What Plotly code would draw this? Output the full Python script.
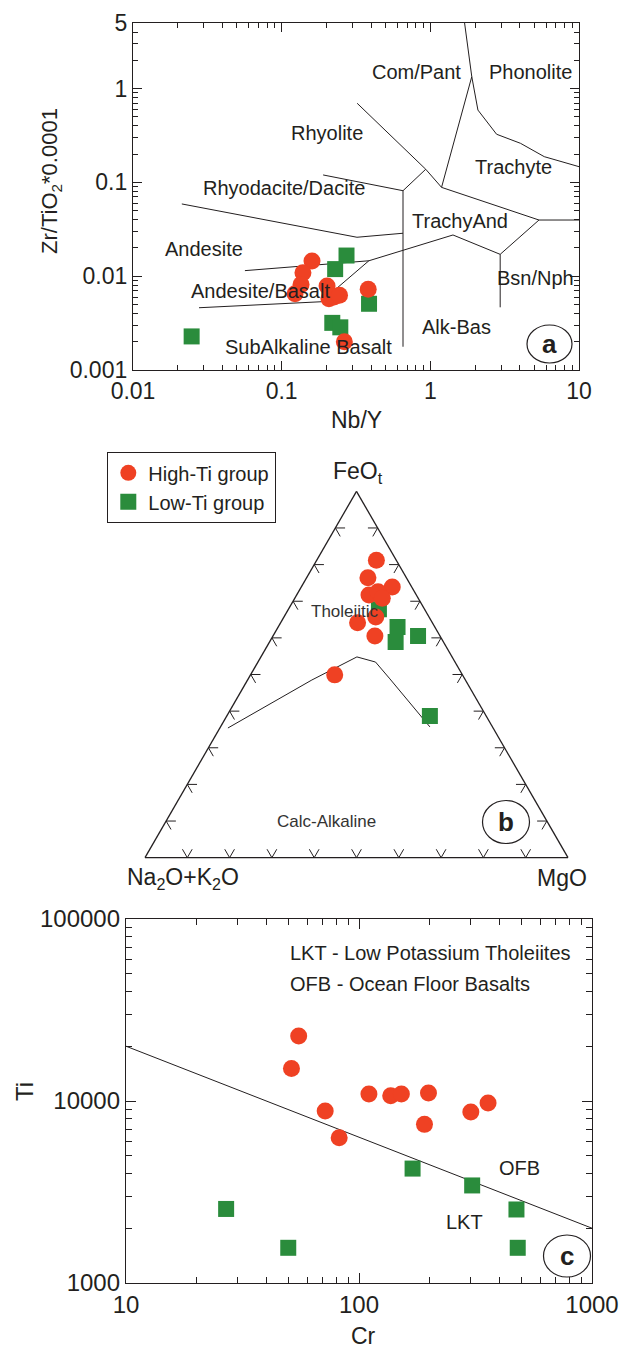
import math
import plotly.graph_objects as go

W, H = 623, 1351
FONT = "Liberation Sans, Arial, Helvetica, sans-serif"
INK = "#231f20"
RED = "#ef4123"
GREEN = "#2a8c3c"

# ---------------- (a) Nb/Y vs Zr/TiO2*0.0001 ----------------
nby_high = [0.160, 0.139, 0.135, 0.123, 0.202, 0.208, 0.225, 0.245, 0.382, 0.264]
zrti_high = [0.0145, 0.0109, 0.00813, 0.00651, 0.00787, 0.00575, 0.0060, 0.00625, 0.00725, 0.0020]
nby_low = [0.273, 0.229, 0.387, 0.219, 0.248, 0.0248]
zrti_low = [0.0166, 0.0119, 0.00508, 0.00318, 0.00285, 0.00228]

# field boundaries (Nb/Y, Zr/TiO2*0.0001)
field_lines_a = [
    [(1.70, 5.0), (1.90, 1.34), (2.09, 0.59), (2.79, 0.326), (4.04, 0.261), (5.84, 0.188), (10.0, 0.147)],
    [(1.90, 1.34), (1.19, 0.0885)],
    [(0.322, 0.697), (0.931, 0.138), (1.19, 0.0885)],
    [(0.931, 0.138), (0.655, 0.0815)],
    [(0.19, 0.12), (0.655, 0.0815)],
    [(0.655, 0.0815), (0.655, 0.00177)],
    [(1.19, 0.0885), (5.38, 0.0397), (10.0, 0.0397)],
    [(0.0278, 0.00461), (0.184, 0.00534), (0.386, 0.0146), (1.42, 0.0275), (2.95, 0.0171), (5.38, 0.0397)],
    [(0.0566, 0.01146), (0.386, 0.0146)],
    [(0.0213, 0.0589), (0.321, 0.026), (0.655, 0.0287)],
    [(2.95, 0.0171), (2.95, 0.00466)],
]

field_names_a = ["Com/Pant", "Phonolite", "Rhyolite", "Trachyte", "Rhyodacite/Dacite", "TrachyAnd",
                 "Andesite", "Bsn/Nph", "Andesite/Basalt", "Alk-Bas", "SubAlkaline Basalt"]
field_label_x_a = [0.81, 4.75, 0.202, 3.64, 0.104, 1.59, 0.0301, 5.06, 0.0726, 1.51, 0.151]
field_label_y_a = [1.51, 1.51, 0.339, 0.147, 0.0865, 0.0391, 0.0194, 0.00964, 0.00695, 0.00285, 0.00177]

# ---------------- (b) AFM ternary ----------------
feo_high = [81.2, 76.4, 73.9, 71.7, 72.6, 70.8, 65.7, 64.1, 60.5, 49.9]
alk_high = [4.7, 9.1, 4.6, 11.2, 8.6, 8.5, 12.6, 17.7, 15.4, 30.2]
mgo_high = [14.1, 14.5, 21.5, 17.1, 18.8, 20.7, 21.7, 18.2, 24.1, 19.9]
feo_low = [67.8, 63.0, 60.5, 58.9, 38.7]
alk_low = [10.8, 8.8, 5.2, 11.3, 13.3]
mgo_low = [21.4, 28.2, 34.3, 29.8, 48.0]

# Tholeiitic / Calc-Alkaline divide
div_feo = [35.4, 48.5, 54.8, 53.4, 48.8, 35.7]
div_alk = [62.7, 36.3, 22.5, 18.8, 17.7, 14.8]
div_mgo = [1.9, 15.2, 22.7, 27.8, 33.5, 49.5]

# ---------------- (c) Cr vs Ti ----------------
cr_high = [55.1, 51.3, 110.3, 136.8, 152.0, 198.7, 358.0, 302.0, 71.6, 82.2, 191.0]
ti_high = [22760, 15070, 10920, 10690, 10920, 11060, 9750, 8700, 8810, 6290, 7440]
cr_low = [26.9, 49.7, 169.8, 306.0, 474.0, 480.0]
ti_low = [2552, 1561, 4253, 3436, 2535, 1561]

# LKT / OFB divide
div_cr = [10, 1000]
div_ti = [20000, 2000]

a_xticks = [0.01, 0.1, 1, 10]
a_yticks = [0.001, 0.01, 0.1, 1, 5]
c_xticks = [10, 100, 1000]
c_yticks = [1000, 10000, 100000]


def px(x):
    return x / W


def py(y):
    return 1 - y / H


def polyline(segments):
    xs, ys = [], []
    for seg in segments:
        for x, y in seg:
            xs.append(x)
            ys.append(y)
        xs.append(None)
        ys.append(None)
    return xs, ys


fig = go.Figure()

# panel a
lx, ly = polyline(field_lines_a)
fig.add_trace(go.Scatter(x=lx, y=ly, mode="lines", line=dict(color=INK, width=1),
                         hoverinfo="skip", showlegend=False, xaxis="x", yaxis="y"))
fig.add_trace(go.Scatter(x=nby_low, y=zrti_low, mode="markers",
                         marker=dict(symbol="square", size=16, color=GREEN),
                         showlegend=False, xaxis="x", yaxis="y"))
fig.add_trace(go.Scatter(x=nby_high, y=zrti_high, mode="markers",
                         marker=dict(symbol="circle", size=17, color=RED),
                         showlegend=False, xaxis="x", yaxis="y"))

# panel b : frame ticks drawn as small chevrons
tick_len = 2.3
ta, tb, tc = [], [], []
for i in range(1, 10):
    v = 10.0 * i
    # left side (MgO = 0)
    for p in [(v, 100 - v - tick_len, tick_len), (v, 100 - v, 0), (v - tick_len, 100 - v, tick_len)]:
        ta.append(p[0]); tb.append(p[1]); tc.append(p[2])
    ta.append(None); tb.append(None); tc.append(None)
    # right side (alkalis = 0)
    for p in [(v, tick_len, 100 - v - tick_len), (v, 0, 100 - v), (v - tick_len, tick_len, 100 - v)]:
        ta.append(p[0]); tb.append(p[1]); tc.append(p[2])
    ta.append(None); tb.append(None); tc.append(None)
    # base (FeO = 0)
    for p in [(tick_len, 100 - v, v - tick_len), (0, 100 - v, v), (tick_len, 100 - v - tick_len, v)]:
        ta.append(p[0]); tb.append(p[1]); tc.append(p[2])
    ta.append(None); tb.append(None); tc.append(None)

fig.add_trace(go.Scatterternary(a=ta, b=tb, c=tc, mode="lines", line=dict(color=INK, width=1),
                                hoverinfo="skip", showlegend=False, subplot="ternary"))
fig.add_trace(go.Scatterternary(a=div_feo, b=div_alk, c=div_mgo, mode="lines",
                                line=dict(color=INK, width=1), hoverinfo="skip",
                                showlegend=False, subplot="ternary"))
fig.add_trace(go.Scatterternary(a=feo_low, b=alk_low, c=mgo_low, mode="markers", name="Low-Ti group",
                                marker=dict(symbol="square", size=16, color=GREEN),
                                legendrank=2, subplot="ternary"))
fig.add_trace(go.Scatterternary(a=feo_high, b=alk_high, c=mgo_high, mode="markers", name="High-Ti group",
                                marker=dict(symbol="circle", size=17, color=RED),
                                legendrank=1, subplot="ternary"))

# panel c
fig.add_trace(go.Scatter(x=div_cr, y=div_ti, mode="lines", line=dict(color=INK, width=1),
                         hoverinfo="skip", showlegend=False, xaxis="x2", yaxis="y2"))
fig.add_trace(go.Scatter(x=cr_low, y=ti_low, mode="markers",
                         marker=dict(symbol="square", size=16, color=GREEN),
                         showlegend=False, xaxis="x2", yaxis="y2"))
fig.add_trace(go.Scatter(x=cr_high, y=ti_high, mode="markers",
                         marker=dict(symbol="circle", size=17, color=RED),
                         showlegend=False, xaxis="x2", yaxis="y2"))


def minor_vals(lo, hi):
    return [m * 10 ** e for e in range(lo, hi) for m in range(2, 10)]


def log_axis(domain, rng, ticks, texts, minors, anchor, major_len, minor_len, font_size):
    return dict(
        type="log", domain=domain, range=rng, anchor=anchor, automargin=False,
        tickmode="array", tickvals=ticks, ticktext=texts,
        ticks="inside", ticklen=major_len, tickwidth=1, tickcolor=INK,
        showline=True, linecolor=INK, linewidth=1.3, mirror="ticks",
        showgrid=False, zeroline=False,
        tickfont=dict(family=FONT, size=font_size, color=INK),
        minor=dict(tickmode="array", tickvals=minors, ticks="inside", ticklen=minor_len,
                   tickwidth=1, tickcolor=INK, showgrid=False),
    )


tern_axis = dict(showline=True, linecolor=INK, linewidth=1.3, showgrid=False, ticks="",
                 showticklabels=False, min=0, title=dict(text=""))

fig.update_layout(
    width=W, height=H, margin=dict(l=0, r=0, t=0, b=0, autoexpand=False),
    paper_bgcolor="white", plot_bgcolor="white",
    font=dict(family=FONT, color=INK),
    xaxis=log_axis([px(133), px(579)], [-2, 1], a_xticks, ["0.01", "0.1", "1", "10"],
                   minor_vals(-2, 1), "y", 9, 5, 23),
    yaxis=log_axis([py(370), py(23)], [-3, math.log10(5)], a_yticks,
                   ["0.001", "0.01", "0.1", "1", "5"], [v for v in minor_vals(-3, 1) if v < 5],
                   "x", 9, 5, 23),
    xaxis2=log_axis([px(126), px(592)], [1, 3], c_xticks, ["10", "100", "1000"],
                    minor_vals(1, 3), "y2", 10, 6, 24),
    yaxis2=log_axis([py(1283), py(919)], [3, 5], c_yticks, ["1000", "10000", "100000"],
                    minor_vals(3, 5), "x2", 10, 6, 24),
    ternary=dict(
        domain=dict(x=[px(145), px(568)], y=[py(858), py(491)]),
        sum=100, bgcolor="white",
        aaxis=tern_axis, baxis=tern_axis, caxis=tern_axis,
    ),
    showlegend=True,
    legend=dict(x=px(107), y=py(452), xanchor="left", yanchor="top",
                bordercolor=INK, borderwidth=1.3, bgcolor="white",
                font=dict(family=FONT, size=20, color=INK), tracegroupgap=0),
)


def note(text, x, y, size, color=INK, **kw):
    """Text placed at a pixel position of the page."""
    d = dict(text=text, x=px(x), y=py(y), xref="paper", yref="paper", showarrow=False,
             xanchor="center", yanchor="middle", font=dict(family=FONT, size=size, color=color))
    d.update(kw)
    return d


ann = []
# region names, panel a
for name, x, y in zip(field_names_a, field_label_x_a, field_label_y_a):
    ann.append(dict(text=name, x=math.log10(x), y=math.log10(y), xref="x", yref="y",
                    xanchor="center", yanchor="middle",
                    showarrow=False, font=dict(family=FONT, size=20, color=INK)))

# panel c notes
for text, x, y, anchor in [("LKT - Low Potassium Tholeiites", 49.4, 64900, "left"),
                           ("OFB - Ocean Floor Basalts", 49.4, 44000, "left"),
                           ("OFB", 490, 4270, "center"),
                           ("LKT", 283, 2170, "center")]:
    ann.append(dict(text=text, x=math.log10(x), y=math.log10(y), xref="x2", yref="y2",
                    xanchor=anchor, yanchor="middle", showarrow=False,
                    font=dict(family=FONT, size=20, color=INK)))

# ternary labels
ann += [
    note("Tholeiitic", 345, 611, 17, "#333333"),
    note("Calc-Alkaline", 326, 822, 17, "#333333"),
    note("FeO<sub>t</sub>", 358, 472, 23),
    note("Na<sub>2</sub>O+K<sub>2</sub>O", 183, 878, 23),
    note("MgO", 562, 878, 23),
]

# axis titles
ann += [
    note("Nb/Y", 356, 420, 23),
    note("Zr/TiO<sub>2</sub>*0.0001", 51, 181, 22, textangle=-90),
    note("Ti", 24, 1092, 24, textangle=-90),
    note("Cr", 363, 1336, 23),
]

# panel letters in circles
shapes = []
for letter, cx, cy, rw, rh in [("a", 549.5, 344, 22.5, 19), ("b", 506, 822, 23.5, 21.5), ("c", 567, 1256, 23.5, 21)]:
    shapes.append(dict(type="circle", xref="paper", yref="paper",
                       x0=px(cx - rw), x1=px(cx + rw), y0=py(cy + rh), y1=py(cy - rh),
                       line=dict(color=INK, width=1.2), fillcolor="rgba(0,0,0,0)"))
    ann.append(note("<b>%s</b>" % letter, cx, cy, 26))

fig.update_layout(annotations=ann, shapes=shapes)
fig.write_html("out.html")
